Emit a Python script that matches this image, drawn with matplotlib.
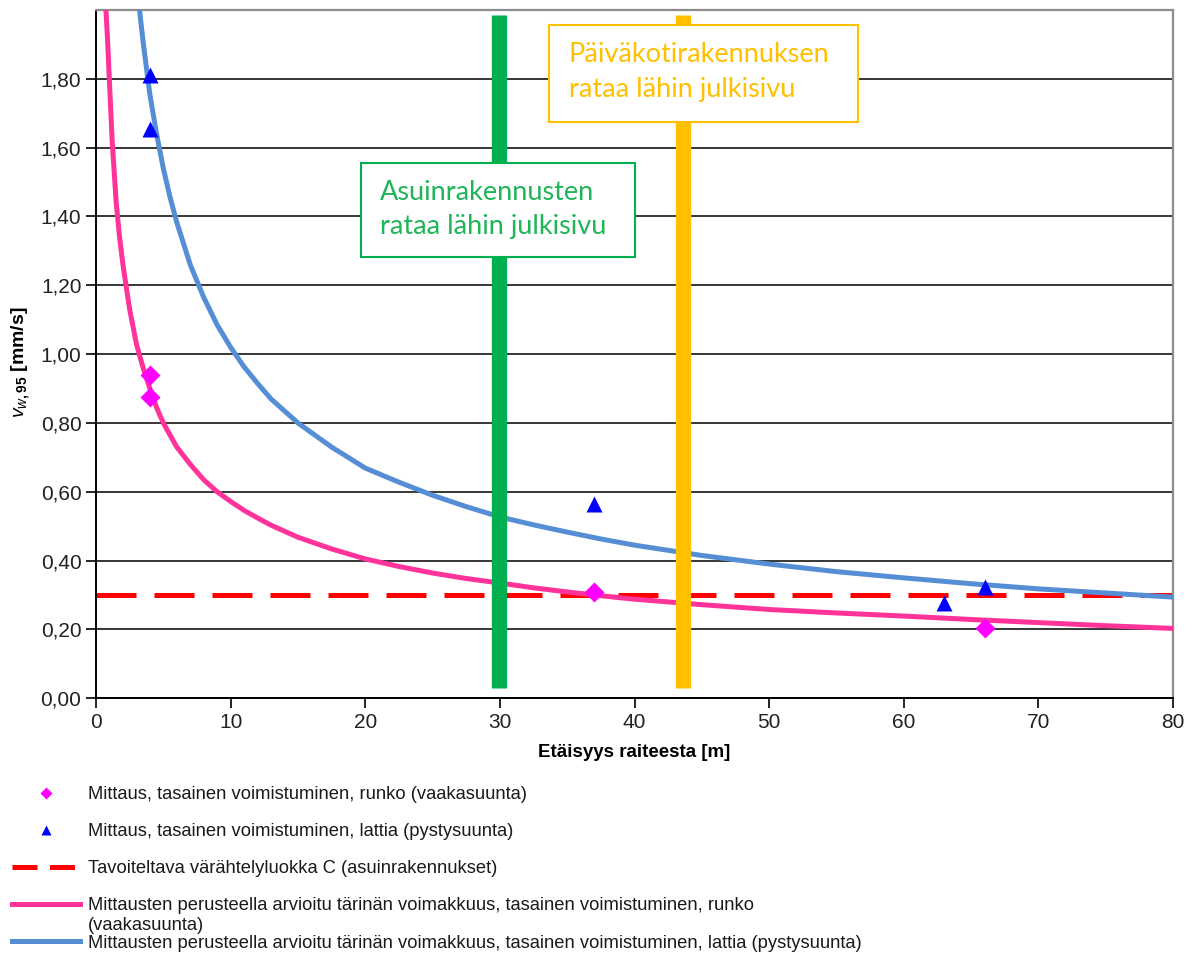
import matplotlib.pyplot as plt
from matplotlib.ticker import MultipleLocator, FuncFormatter
from matplotlib.lines import Line2D
from matplotlib.patches import Rectangle

plt.rcParams['font.family'] = ['Liberation Sans', 'DejaVu Sans']
plt.rcParams['mathtext.fontset'] = 'custom'
plt.rcParams['mathtext.it'] = 'Liberation Sans:italic'
plt.rcParams['mathtext.rm'] = 'Liberation Sans:bold'

# mitatut arvot (x = etäisyys raiteesta, v = tärinä mm/s)
runko_x = [4, 4, 37, 66]
runko_v = [0.94, 0.875, 0.31, 0.205]
lattia_x = [4, 4, 37, 63, 66]
lattia_v = [1.81, 1.655, 0.565, 0.277, 0.323]

# arvioitu tärinän voimakkuus, runko (vaakasuunta)
runko_arvio_x = [0.74, 0.85, 1.0, 1.2, 1.5, 1.75, 2.0, 2.5, 3.0, 3.5, 4.0, 4.5, 5.0, 6.0, 7.0,
                 8.0, 9.0, 10, 11, 12, 13, 15, 17.5, 20, 22.5, 25, 27.5, 30, 32.5, 35, 37.5,
                 40, 45, 50, 55, 60, 65, 70, 75, 80]
runko_arvio_v = [2.0, 1.92, 1.79, 1.62, 1.44, 1.34, 1.26, 1.13, 1.03, 0.96, 0.90, 0.845, 0.80, 0.73, 0.68,
                 0.635, 0.60, 0.572, 0.546, 0.524, 0.503, 0.468, 0.434, 0.405, 0.383, 0.364, 0.348, 0.335,
                 0.321, 0.309, 0.298, 0.288, 0.272, 0.258, 0.248, 0.239, 0.229, 0.220, 0.211, 0.203]

# arvioitu tärinän voimakkuus, lattia (pystysuunta)
lattia_arvio_x = [3.25, 3.5, 4.0, 4.5, 5.0, 5.5, 6.0, 7.0, 8.0, 9.0, 10, 11, 12, 13, 15, 17.5,
                  20, 22.5, 25, 27.5, 30, 32.5, 35, 37.5, 40, 45, 50, 55, 60, 65, 70, 75, 80]
lattia_arvio_v = [1.994, 1.907, 1.755, 1.64, 1.54, 1.456, 1.383, 1.26, 1.165, 1.085, 1.02, 0.963, 0.915,
                  0.87, 0.80, 0.73, 0.669, 0.628, 0.59, 0.557, 0.527, 0.504, 0.483, 0.463, 0.445,
                  0.415, 0.39, 0.368, 0.35, 0.333, 0.318, 0.306, 0.294]

raja_c = 0.30          # värähtelyluokka C
asuin_x = 29.9         # asuinrakennusten julkisivu
paivakoti_x = 43.6     # päiväkodin julkisivu

selitteet = [
    'Mittaus, tasainen voimistuminen, runko (vaakasuunta)',
    'Mittaus, tasainen voimistuminen, lattia (pystysuunta)',
    'Tavoiteltava värähtelyluokka C (asuinrakennukset)',
    'Mittausten perusteella arvioitu tärinän voimakkuus, tasainen voimistuminen, runko',
    'Mittausten perusteella arvioitu tärinän voimakkuus, tasainen voimistuminen, lattia (pystysuunta)',
]

W, H = 1197, 956
fig = plt.figure(figsize=(W / 100, H / 100), dpi=100)
ax = fig.add_axes([96 / W, (H - 698.3) / H, (1173 - 96) / W, 688.3 / H])

ax.plot(runko_arvio_x, runko_arvio_v, color='#ff3399', lw=3.6, zorder=3)
ax.plot(lattia_arvio_x, lattia_arvio_v, color='#558ed5', lw=3.6, zorder=3)
ax.axhline(raja_c, color='#ff0000', lw=3.6, dashes=(8, 3.6), zorder=2)
ax.plot(runko_x, runko_v, 'D', color='#ff00ff', ms=10.5, mec='none', zorder=4)
ax.plot(lattia_x, lattia_v, '^', color='#0000ff', ms=12, mec='none', zorder=4)

# julkisivujen sijainnit
ax.plot([asuin_x, asuin_x], [0.03, 1.985], color='#00b050', lw=11, solid_capstyle='butt', zorder=5)
ax.plot([paivakoti_x, paivakoti_x], [0.03, 1.985], color='#ffc000', lw=11, solid_capstyle='butt', zorder=5)

# tekstilaatikot
ax.add_patch(Rectangle((19.68, 1.282), 20.36, 0.273, fc='white', ec='#00b050', lw=1.5, zorder=6))
ax.text(21.1, 1.42, 'Asuinrakennusten\nrataa lähin julkisivu', family=['Lato', 'DejaVu Sans'],
        fontsize=19.5, color='#1fb558', linespacing=1.42, va='center', ha='left', zorder=7)
ax.add_patch(Rectangle((33.65, 1.674), 22.95, 0.282, fc='white', ec='#ffc000', lw=1.5, zorder=6))
ax.text(35.13, 1.82, 'Päiväkotirakennuksen\nrataa lähin julkisivu', family=['Lato', 'DejaVu Sans'],
        fontsize=19.5, color='#ffc000', linespacing=1.48, va='center', ha='left', zorder=7)

ax.set_xlim(0, 80)
ax.set_ylim(0, 2.0)
ax.xaxis.set_major_locator(MultipleLocator(10))
ax.set_yticks([0, 0.2, 0.4, 0.6, 0.8, 1.0, 1.2, 1.4, 1.6, 1.8])
ax.yaxis.set_major_formatter(FuncFormatter(lambda v, p: f'{v:.2f}'.replace('.', ',')))
ax.tick_params(labelsize=15, length=7, width=1.2, direction='out', colors='black', labelcolor='#222222')
ax.yaxis.grid(True, color='black', lw=1.1)
ax.set_axisbelow(True)

for s in ['left', 'bottom']:
    ax.spines[s].set_color('black')
    ax.spines[s].set_linewidth(1.4)
for s in ['top', 'right']:
    ax.spines[s].set_color('#8c8c8c')
    ax.spines[s].set_linewidth(1.6)

ax.set_xlabel('Etäisyys raiteesta [m]', fontsize=13.5, fontweight='bold', labelpad=9)
ax.set_ylabel(r'$\mathit{v}_{\mathit{w,95}}$ [mm/s]', fontsize=14, fontweight='bold')
ax.yaxis.set_label_coords(-0.0595, 0.488)

kahvat = [
    Line2D([], [], ls='none', marker='D', color='#ff00ff', ms=6, mec='none'),
    Line2D([], [], ls='none', marker='^', color='#0000ff', ms=7, mec='none'),
    Line2D([], [], color='#ff0000', lw=3.6, dashes=(5, 2.5)),
    Line2D([], [], color='#ff3399', lw=3.6),
    Line2D([], [], color='#558ed5', lw=3.6),
]
selite_tyyli = dict(frameon=False, fontsize=13.2, handlelength=3.7, handletextpad=0.45,
                    borderpad=0, borderaxespad=0, labelcolor='#1a1a1a')
fig.legend(kahvat[:4], selitteet[:4], loc='upper left', bbox_to_anchor=(12 / W, 1 - 786 / H),
           labelspacing=1.1, **selite_tyyli)
fig.text(88 / W, 1 - 925 / H, '(vaakasuunta)', fontsize=13.2, color='#1a1a1a', va='center')
fig.legend(kahvat[4:], selitteet[4:], loc='center left', bbox_to_anchor=(12 / W, 1 - 943 / H),
           **selite_tyyli)

fig.savefig('out.png', dpi=100)
